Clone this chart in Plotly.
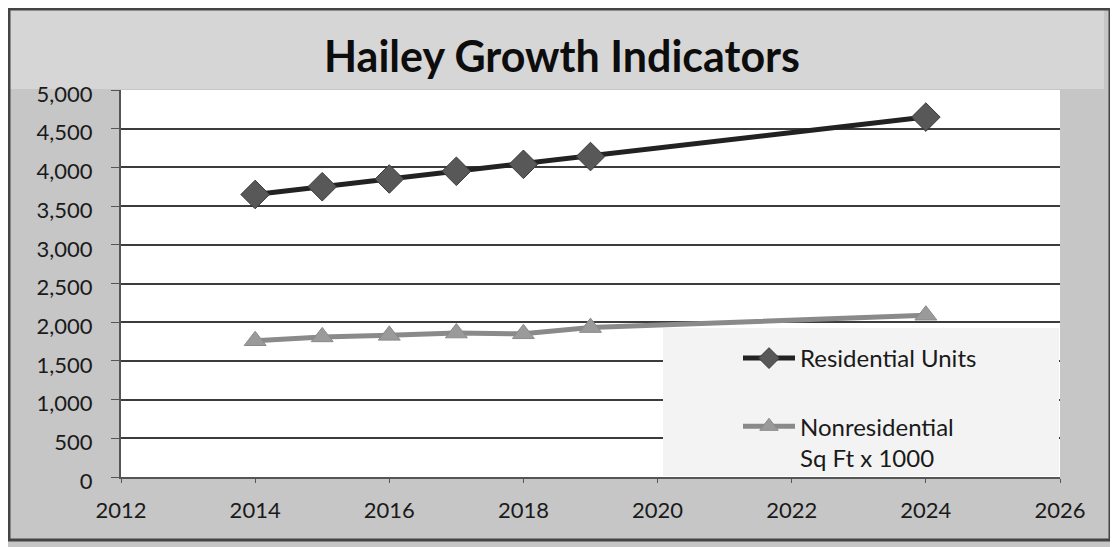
import plotly.graph_objects as go

years = [2014, 2015, 2016, 2017, 2018, 2019, 2024]
residential = [3650, 3750, 3850, 3950, 4040, 4140, 4650]
nonresidential = [1760, 1810, 1830, 1860, 1850, 1930, 2090]
x_ticks = [2012, 2014, 2016, 2018, 2020, 2022, 2024, 2026]
y_ticks = [0, 500, 1000, 1500, 2000, 2500, 3000, 3500, 4000, 4500, 5000]

OFF = 8  # page body margin
W, H = 1110, 539
ml, mr, mt, mb = 113, 58, 82, 70
FONT = "Lato"

pw = W - ml - mr
ph = H - mt - mb
def px_x(p):
    return (p - OFF - ml) / pw
def px_y(p):
    return (H - mb - (p - OFF)) / ph

fig = go.Figure()
fig.add_trace(go.Scatter(
    x=years, y=residential, name="Residential Units", mode="lines+markers",
    legendgroup="a",
    line=dict(color="#222222", width=5),
    marker=dict(symbol="diamond", size=22, color="#585858", line=dict(color="#3a3a3a", width=1)),
))
fig.add_trace(go.Scatter(
    x=years, y=nonresidential, name="Nonresidential<br>Sq Ft x 1000", mode="lines+markers",
    legendgroup="b",
    line=dict(color="#8a8a8a", width=5),
    marker=dict(symbol="triangle-up", size=19, color="#9a9a9a", line=dict(color="#8a8a8a", width=1)),
))

fig.update_layout(
    width=W, height=H,
    margin=dict(l=ml, r=mr, t=mt, b=mb),
    paper_bgcolor="#c6c6c6",
    plot_bgcolor="#ffffff",
    font=dict(family=FONT, color="#1a1a1a", size=22),
    title=dict(text="<b>Hailey Growth Indicators</b>", x=(562 - OFF) / W, xanchor="center",
               y=1 - (57 - OFF) / H, yanchor="middle",
               font=dict(size=43, color="#0d0d0d", family=FONT)),
    xaxis=dict(range=[2012, 2026], tickvals=x_ticks, showgrid=False, zeroline=False,
               showline=True, linecolor="#555555", linewidth=2, ticks="outside",
               ticklen=4, tickcolor="#555555", tickfont=dict(size=22),
               ticklabelstandoff=9),
    yaxis=dict(range=[0, 5000], tickvals=y_ticks, tickformat=",d", showgrid=True,
               gridcolor="#3c3c3c", gridwidth=2, zeroline=False, showline=True,
               linecolor="#555555", linewidth=2, ticks="outside", ticklen=8,
               tickcolor="#555555", tickfont=dict(size=22), ticklabelstandoff=14,
               ticklabelshift=4),
    showlegend=True,
    legend=dict(x=px_x(738), xanchor="left", y=px_y(336), yanchor="top",
                bgcolor="rgba(0,0,0,0)", itemwidth=52, tracegroupgap=34, valign="top",
                font=dict(size=24, color="#1a1a1a", family=FONT)),
    shapes=[
        dict(type="rect", xref="paper", yref="paper", x0=px_x(OFF), x1=px_x(1104),
             y0=px_y(89), y1=px_y(OFF), fillcolor="#d6d6d6", line=dict(width=0), layer="below"),
        dict(type="rect", xref="paper", yref="paper", x0=px_x(663), x1=px_x(1059),
             y0=px_y(476), y1=px_y(328), fillcolor="#f3f3f3", line=dict(width=0), layer="above"),
        dict(type="rect", xref="paper", yref="paper", x0=px_x(OFF + 1), x1=px_x(1110),
             y0=px_y(540), y1=px_y(OFF + 1), fillcolor="rgba(0,0,0,0)",
             line=dict(color="#444444", width=3), layer="above"),
    ],
)

fig.write_html("out.html")
